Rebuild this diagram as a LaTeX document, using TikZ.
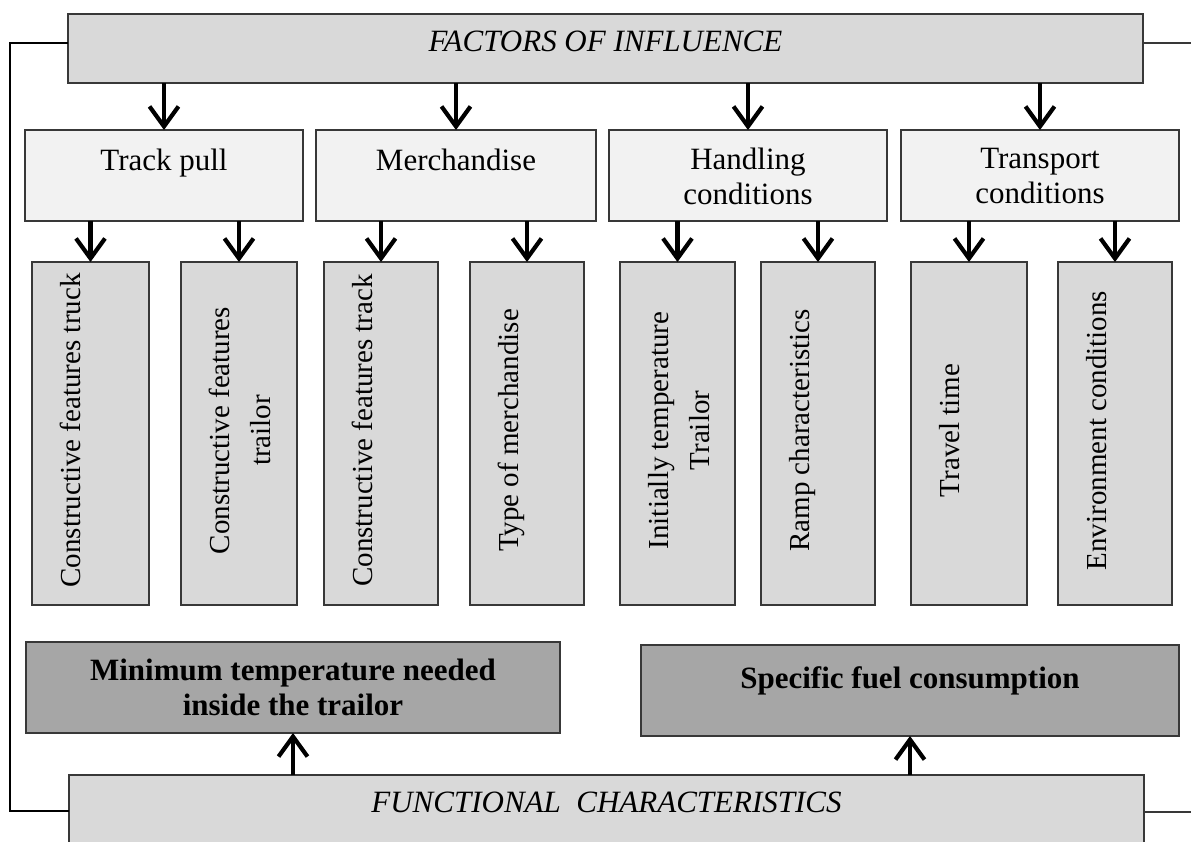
\documentclass[tikz,border=0pt]{standalone}
\usepackage{fontspec}
\setmainfont{Liberation Serif}
\usetikzlibrary{arrows.meta,calc}
\definecolor{bordc}{HTML}{383838}
\definecolor{fillA}{HTML}{D9D9D9}
\definecolor{fillB}{HTML}{F2F2F2}
\definecolor{fillC}{HTML}{A6A6A6}
\newcommand{\hfnt}{\fontsize{31}{35}\selectfont}
\newcommand{\vfnt}{\fontsize{29}{41}\selectfont}
\tikzset{
  boxbase/.style={draw=bordc, line width=1.4pt, inner sep=0pt, outer sep=0pt},
  topbox/.style={boxbase, fill=fillA},
  catbox/.style={boxbase, fill=fillB, minimum width=278pt, minimum height=91pt},
  factbox/.style={boxbase, fill=fillA, minimum width=115pt, minimum height=343pt},
  resbox/.style={boxbase, fill=fillC, minimum height=91pt},
  htxt/.style={inner sep=0pt, anchor=north, align=center, font=\hfnt},
  vtxt/.style={inner sep=0pt, anchor=north, align=center, rotate=90, font=\vfnt},
  arr/.style={line width=4.2pt, -{Straight Barb[length=20pt, width=29pt]}},
  fbline/.style={line width=2pt, draw=black},
  sideline/.style={line width=1.4pt, draw=bordc}
}
\begin{document}
\begin{tikzpicture}[x=1pt, y=-1pt]
\useasboundingbox (0,0) rectangle (1191,841);
\clip (0,0) rectangle (1191,841);
\fill[white] (0,0) rectangle (1191,841);

% top and bottom boxes
\node[topbox, minimum width=1075pt, minimum height=69pt] (top) at (605.5,48.5) {};
\node[htxt, font=\hfnt\itshape] (toptxt) at ($(top.north)+(0,17)$) {FACTORS OF INFLUENCE};
\node[topbox, minimum width=1075pt, minimum height=110pt] (bot) at (606.5,830) {};
\node[htxt, font=\hfnt\itshape] (bottxt) at ($(bot.north)+(0,17)$) {FUNCTIONAL\ \ CHARACTERISTICS};

% category boxes
\node[catbox] (tp) at (164,175.5) {};
\node[catbox, minimum width=280pt] (me) at (456,175.5) {};
\node[catbox] (hc) at (748,175.5) {};
\node[catbox] (tc) at (1040,175.5) {};
\node[htxt] (tptxt) at ($(tp.north)+(0,19)$) {Track pull};
\node[htxt] (metxt) at ($(me.north)+(0,19)$) {Merchandise};
\node[htxt] (hctxt) at ($(hc.north)+(0,18)$) {Handling\\conditions};
\node[htxt] (tctxt) at ($(tc.north)+(0,18)$) {Transport\\conditions};

% factor boxes
\node[factbox, minimum width=117pt] (f1) at (90.5,433.5) {};
\node[factbox, minimum width=116pt] (f2) at (239,433.5) {};
\node[factbox, minimum width=114pt] (f3) at (381,433.5) {};
\node[factbox, minimum width=114pt] (f4) at (527,433.5) {};
\node[factbox] (f5) at (677.5,433.5) {};
\node[factbox, minimum width=114pt] (f6) at (818,433.5) {};
\node[factbox, minimum width=116pt] (f7) at (969,433.5) {};
\node[factbox, minimum width=114pt] (f8) at (1115,433.5) {};
\node[vtxt] (f1t) at ($(f1.west)+(28,-3)$) {Constructive features truck};
\node[vtxt] (f2t) at ($(f2.west)+(28,-3)$) {Constructive features\\trailor};
\node[vtxt] (f3t) at ($(f3.west)+(28,-3)$) {Constructive features track};
\node[vtxt] (f4t) at ($(f4.west)+(28,-3)$) {Type of merchandise};
\node[vtxt] (f5t) at ($(f5.west)+(28,-3)$) {Initially temperature\\Trailor};
\node[vtxt] (f6t) at ($(f6.west)+(28,-3)$) {Ramp characteristics};
\node[vtxt] (f7t) at ($(f7.west)+(28,-3)$) {Travel time};
\node[vtxt] (f8t) at ($(f8.west)+(28,-3)$) {Environment conditions};

% result boxes
\node[resbox, minimum width=534pt] (mt) at (293,687.5) {};
\node[resbox, minimum width=538pt] (sf) at (910,690.5) {};
\node[htxt, font=\hfnt\bfseries] (mttxt) at ($(mt.north)+(0,17)$) {Minimum temperature needed\\inside the trailor};
\node[htxt, font=\hfnt\bfseries] (sftxt) at ($(sf.north)+(0,21)$) {Specific fuel consumption};

% arrows top -> categories
\foreach \b in {tp,me,hc,tc} {
  \draw[arr] (top.south -| \b.north) -- (\b.north);
}
% arrows categories -> factors
\draw[arr] (tp.south -| f1.north) -- (f1.north);
\draw[arr] (tp.south -| f2.north) -- (f2.north);
\draw[arr] (me.south -| f3.north) -- (f3.north);
\draw[arr] (me.south -| f4.north) -- (f4.north);
\draw[arr] (hc.south -| f5.north) -- (f5.north);
\draw[arr] (hc.south -| f6.north) -- (f6.north);
\draw[arr] (tc.south -| f7.north) -- (f7.north);
\draw[arr] (tc.south -| f8.north) -- (f8.north);
% arrows bottom -> results
\draw[arr] (bot.north -| mt.south) -- (mt.south);
\draw[arr] (bot.north -| sf.south) -- (sf.south);

% feedback and side lines
\coordinate (fbA) at (top.west |- 0,43);
\coordinate (fbB) at (10,43);
\coordinate (fbC) at (10,811);
\coordinate (fbD) at (bot.west |- 0,811);
\draw[fbline] (fbA) -- (fbB) -- (fbC) -- (fbD);
\coordinate (rtA) at (top.east |- 0,43);
\coordinate (rtB) at (1191,43);
\draw[sideline] (rtA) -- (rtB);
\coordinate (rbA) at (bot.east |- 0,812);
\coordinate (rbB) at (1191,812);
\draw[sideline] (rbA) -- (rbB);
\end{tikzpicture}
\end{document}
